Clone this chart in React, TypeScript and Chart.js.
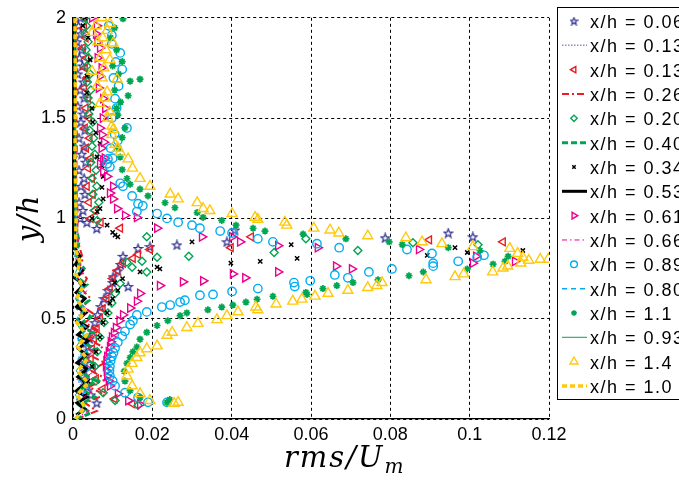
import React, { useEffect, useRef } from 'react';
import { Chart, registerables } from 'chart.js';
import { drawPoint } from 'chart.js/helpers';

Chart.register(...registerables);

// ---------- tick labels ----------
const xTickLabels = ['0', '0.02', '0.04', '0.06', '0.08', '0.1', '0.12'];
const yTickLabels = ['0', '0.5', '1', '1.5', '2'];

// ---------- legend labels ----------
const seriesLabels = [
  'x/h = 0.06', 'x/h = 0.13', 'x/h = 0.13', 'x/h = 0.26',
  'x/h = 0.20', 'x/h = 0.40', 'x/h = 0.34', 'x/h = 0.53',
  'x/h = 0.61', 'x/h = 0.66', 'x/h = 0.89', 'x/h = 0.80',
  'x/h = 1.1', 'x/h = 0.93', 'x/h = 1.4', 'x/h = 1.0',
];

// ---------- series values [rms/Um, y/h] ----------
const starXh006 = [
  [0.0060, 0.08], [0.0045, 0.12], [0.0035, 0.16], [0.0030, 0.20], [0.0028, 0.24], [0.0030, 0.28],
  [0.0033, 0.32], [0.0038, 0.36], [0.0042, 0.40], [0.0048, 0.44], [0.0055, 0.48], [0.0062, 0.52],
  [0.0070, 0.56], [0.0078, 0.60], [0.0088, 0.64], [0.0139, 0.66], [0.0100, 0.68], [0.0101, 0.709],
  [0.0113, 0.738], [0.0120, 0.77], [0.0126, 0.811], [0.0164, 0.850], [0.0194, 0.859], [0.0262, 0.868],
  [0.0388, 0.883], [0.0408, 0.942], [0.0787, 0.903], [0.0946, 0.927], [0.1008, 0.908],
  [0.0060, 0.95], [0.0035, 0.98], [0.0018, 1.00], [0.0025, 1.04], [0.0015, 1.08], [0.0030, 1.12],
  [0.0020, 1.16], [0.0028, 1.20], [0.0015, 1.24], [0.0032, 1.28], [0.0022, 1.32], [0.0028, 1.36],
  [0.0015, 1.40], [0.0030, 1.44], [0.0020, 1.48], [0.0025, 1.52], [0.0012, 1.56], [0.0028, 1.60],
  [0.0018, 1.64], [0.0026, 1.68], [0.0012, 1.72], [0.0024, 1.76], [0.0016, 1.80], [0.0022, 1.84],
  [0.0010, 1.88], [0.0020, 1.92], [0.0014, 1.96], [0.0018, 2.00],
];

const lineXh013 = [
  [0.0005, 0.00], [0.0020, 0.05], [0.0008, 0.10], [0.0025, 0.15], [0.0010, 0.20], [0.0028, 0.25],
  [0.0012, 0.30], [0.0030, 0.35], [0.0012, 0.40], [0.0028, 0.45], [0.0010, 0.50], [0.0025, 0.55],
  [0.0010, 0.60], [0.0022, 0.65], [0.0008, 0.70], [0.0018, 0.75], [0.0006, 0.80], [0.0010, 0.90],
  [0.0006, 1.00], [0.0008, 1.20], [0.0005, 1.40], [0.0007, 1.60], [0.0005, 1.80], [0.0006, 2.00],
];

const triLeftXh013 = [
  [0.0150, 0.075], [0.0105, 0.10], [0.0075, 0.15], [0.0058, 0.20], [0.0050, 0.25], [0.0045, 0.30],
  [0.0048, 0.35], [0.0053, 0.40], [0.0060, 0.45], [0.0068, 0.50], [0.0075, 0.55], [0.0085, 0.60],
  [0.0093, 0.65], [0.0100, 0.70], [0.0112, 0.74], [0.0126, 0.777], [0.0151, 0.801], [0.0164, 0.820],
  [0.0194, 0.845], [0.0398, 0.854], [0.0449, 0.908], [0.0898, 0.893], [0.1084, 0.883],
  [0.0119, 0.951], [0.0070, 0.98], [0.0045, 1.00], [0.0055, 1.04], [0.0040, 1.08], [0.0050, 1.12],
  [0.0035, 1.16], [0.0048, 1.20], [0.0038, 1.25], [0.0045, 1.30], [0.0033, 1.35], [0.0042, 1.40],
  [0.0030, 1.45], [0.0040, 1.50], [0.0032, 1.55], [0.0038, 1.60], [0.0028, 1.65], [0.0036, 1.70],
  [0.0030, 1.75], [0.0034, 1.80], [0.0025, 1.85], [0.0032, 1.90], [0.0028, 1.95], [0.0030, 2.00],
];

const lineXh026 = [
  [0.0010, 0.00], [0.0060, 0.04], [0.0030, 0.08], [0.0080, 0.12], [0.0040, 0.16], [0.0085, 0.20],
  [0.0045, 0.24], [0.0080, 0.28], [0.0040, 0.32], [0.0075, 0.36], [0.0035, 0.40], [0.0065, 0.44],
  [0.0030, 0.48], [0.0055, 0.52], [0.0025, 0.56], [0.0045, 0.60], [0.0020, 0.65], [0.0035, 0.70],
  [0.0015, 0.75], [0.0025, 0.80], [0.0010, 0.90], [0.0012, 1.00], [0.0008, 1.20], [0.0010, 1.40],
  [0.0007, 1.60], [0.0009, 1.80], [0.0007, 2.00],
];

const diamondXh020 = [
  [0.0164, 0.068], [0.0106, 0.092], [0.0076, 0.131], [0.0058, 0.189], [0.0055, 0.262], [0.0061, 0.335],
  [0.0068, 0.408], [0.0078, 0.481], [0.0088, 0.529], [0.0098, 0.578], [0.0106, 0.626], [0.0119, 0.675],
  [0.0186, 0.733], [0.0149, 0.757], [0.0136, 0.782], [0.0174, 0.786], [0.0212, 0.806], [0.0292, 0.811],
  [0.0507, 0.830], [0.0718, 0.840], [0.1021, 0.869], [0.0857, 0.879], [0.0587, 0.898], [0.0186, 0.908],
  [0.0061, 0.990], [0.0055, 1.04], [0.0065, 1.08], [0.0050, 1.12], [0.0060, 1.16], [0.0048, 1.20],
  [0.0058, 1.24], [0.0045, 1.28], [0.0055, 1.32], [0.0048, 1.36], [0.0052, 1.40], [0.0042, 1.44],
  [0.0050, 1.48], [0.0040, 1.52], [0.0048, 1.56], [0.0038, 1.60], [0.0045, 1.64], [0.0036, 1.68],
  [0.0043, 1.72], [0.0035, 1.76], [0.0040, 1.80], [0.0033, 1.84], [0.0038, 1.88], [0.0030, 1.92],
  [0.0034, 1.96], [0.0030, 2.00],
];

const lineXh040 = [
  [0.0008, 0.00], [0.0045, 0.03], [0.0015, 0.07], [0.0055, 0.11], [0.0020, 0.15], [0.0060, 0.19],
  [0.0022, 0.23], [0.0058, 0.27], [0.0020, 0.31], [0.0055, 0.35], [0.0018, 0.39], [0.0050, 0.43],
  [0.0015, 0.47], [0.0045, 0.51], [0.0012, 0.55], [0.0040, 0.59], [0.0010, 0.63], [0.0035, 0.67],
  [0.0008, 0.71], [0.0028, 0.75], [0.0006, 0.80], [0.0015, 0.88], [0.0005, 1.00], [0.0006, 1.25],
  [0.0004, 1.50], [0.0005, 1.75], [0.0004, 2.00],
];

const crossXh034 = [
  [0.0030, 0.117], [0.0038, 0.189], [0.0048, 0.262], [0.0058, 0.335], [0.0068, 0.408], [0.0076, 0.481],
  [0.0086, 0.529], [0.0093, 0.578], [0.0100, 0.600], [0.0113, 0.641], [0.0105, 0.680], [0.0125, 0.700],
  [0.0169, 0.733], [0.0219, 0.748], [0.0212, 0.757], [0.0398, 0.777], [0.0472, 0.786], [0.0565, 0.801],
  [0.0893, 0.816], [0.0994, 0.830], [0.1134, 0.840], [0.0963, 0.854], [0.0550, 0.869], [0.0300, 0.883],
  [0.0113, 0.908], [0.0106, 0.917], [0.0100, 0.930], [0.0086, 0.966], [0.0048, 1.000], [0.0061, 1.034],
  [0.0068, 1.049], [0.0076, 1.097], [0.0073, 1.155], [0.0076, 1.209], [0.0073, 1.262], [0.0061, 1.306],
  [0.0068, 1.374], [0.0058, 1.427], [0.0050, 1.480], [0.0048, 1.549], [0.0035, 1.626], [0.0035, 1.709],
  [0.0043, 1.791], [0.0038, 1.903], [0.0025, 1.961], [0.0030, 2.000],
];

const lineXh053 = [
  [0.0008, 0.02], [0.0030, 0.05], [0.0010, 0.08], [0.0035, 0.11], [0.0008, 0.14], [0.0032, 0.18],
  [0.0012, 0.21], [0.0036, 0.25], [0.0010, 0.28], [0.0034, 0.32], [0.0014, 0.35], [0.0038, 0.39],
  [0.0012, 0.42], [0.0036, 0.46], [0.0010, 0.49], [0.0033, 0.53], [0.0009, 0.56], [0.0030, 0.60],
  [0.0008, 0.63], [0.0028, 0.67], [0.0006, 0.70], [0.0024, 0.74], [0.0006, 0.77], [0.0018, 0.81],
  [0.0005, 0.85], [0.0004, 1.00], [0.0005, 1.20], [0.0003, 1.40], [0.0004, 1.60], [0.0003, 1.80],
  [0.0004, 2.00],
];

const triRightXh061 = [
  [0.0169, 0.073], [0.0139, 0.092], [0.0113, 0.126], [0.0093, 0.165], [0.0090, 0.190], [0.0086, 0.214],
  [0.0085, 0.240], [0.0083, 0.262], [0.0084, 0.290], [0.0086, 0.311], [0.0090, 0.335], [0.0093, 0.359],
  [0.0095, 0.385], [0.0098, 0.408], [0.0103, 0.430], [0.0108, 0.456], [0.0117, 0.490], [0.0126, 0.519],
  [0.0144, 0.553], [0.0161, 0.587], [0.0169, 0.626], [0.0219, 0.665], [0.0277, 0.684], [0.0328, 0.689],
  [0.0434, 0.704], [0.0403, 0.723], [0.0517, 0.733], [0.0703, 0.748], [0.0663, 0.762], [0.1008, 0.777],
  [0.1114, 0.786], [0.1016, 0.811], [0.0872, 0.845], [0.0617, 0.854], [0.0517, 0.864], [0.0421, 0.883],
  [0.0401, 0.908], [0.0325, 0.908], [0.0212, 0.951], [0.0161, 1.005], [0.0131, 1.015], [0.0111, 1.049],
  [0.0101, 1.097], [0.0093, 1.126], [0.0101, 1.160], [0.0086, 1.209], [0.0076, 1.233], [0.0068, 1.272],
  [0.0076, 1.291], [0.0080, 1.300], [0.0072, 1.350], [0.0078, 1.380], [0.0073, 1.417], [0.0068, 1.450],
  [0.0075, 1.500], [0.0081, 1.549], [0.0076, 1.597], [0.0065, 1.650], [0.0068, 1.709], [0.0072, 1.750],
  [0.0062, 1.800], [0.0068, 1.850], [0.0061, 1.879], [0.0058, 1.920], [0.0060, 1.960], [0.0048, 2.000],
];

const lineXh066 = [
  [0.0005, 0.00], [0.0040, 0.04], [0.0012, 0.09], [0.0050, 0.14], [0.0018, 0.19], [0.0055, 0.24],
  [0.0020, 0.29], [0.0050, 0.34], [0.0018, 0.39], [0.0045, 0.44], [0.0015, 0.49], [0.0040, 0.54],
  [0.0012, 0.59], [0.0035, 0.64], [0.0010, 0.69], [0.0028, 0.74], [0.0008, 0.80], [0.0015, 0.90],
  [0.0006, 1.00], [0.0008, 1.30], [0.0005, 1.60], [0.0006, 2.00],
];

const circleXh089 = [
  [0.0237, 0.083], [0.0189, 0.083], [0.0164, 0.107], [0.0131, 0.131], [0.0106, 0.165], [0.0100, 0.190],
  [0.0093, 0.214], [0.0092, 0.240], [0.0093, 0.262], [0.0095, 0.290], [0.0098, 0.311], [0.0102, 0.330],
  [0.0106, 0.354], [0.0113, 0.383], [0.0124, 0.413], [0.0131, 0.437], [0.0144, 0.471], [0.0151, 0.490],
  [0.0161, 0.519], [0.0186, 0.534], [0.0224, 0.558], [0.0245, 0.568], [0.0270, 0.583], [0.0282, 0.592],
  [0.0320, 0.617], [0.0353, 0.621], [0.0401, 0.636], [0.0466, 0.650], [0.0559, 0.660], [0.0557, 0.680],
  [0.0598, 0.689], [0.0693, 0.704], [0.0660, 0.718], [0.0746, 0.733], [0.0804, 0.748], [0.0908, 0.762],
  [0.0908, 0.777], [0.0971, 0.786], [0.1019, 0.806], [0.1036, 0.816], [0.0905, 0.825], [0.0842, 0.845],
  [0.0671, 0.854], [0.0615, 0.874], [0.0504, 0.883], [0.0466, 0.898], [0.0401, 0.927], [0.0371, 0.937],
  [0.0320, 0.951], [0.0300, 0.966], [0.0265, 0.981], [0.0237, 1.000], [0.0212, 1.024], [0.0161, 1.034],
  [0.0176, 1.063], [0.0164, 1.073], [0.0149, 1.112], [0.0126, 1.160], [0.0119, 1.175], [0.0093, 1.257],
  [0.0086, 1.272], [0.0088, 1.296], [0.0100, 1.300], [0.0095, 1.350], [0.0113, 1.388], [0.0105, 1.420],
  [0.0136, 1.451], [0.0098, 1.500], [0.0110, 1.550], [0.0106, 1.597], [0.0115, 1.660], [0.0102, 1.700],
  [0.0124, 1.743], [0.0108, 1.780], [0.0119, 1.825], [0.0098, 1.870], [0.0098, 1.913], [0.0090, 1.960],
];

const lineXh080 = [
  [0.0006, 0.00], [0.0035, 0.05], [0.0010, 0.10], [0.0040, 0.15], [0.0012, 0.20], [0.0042, 0.25],
  [0.0014, 0.30], [0.0040, 0.35], [0.0012, 0.40], [0.0036, 0.45], [0.0010, 0.50], [0.0032, 0.55],
  [0.0009, 0.60], [0.0028, 0.65], [0.0008, 0.70], [0.0022, 0.75], [0.0006, 0.82], [0.0009, 0.95],
  [0.0005, 1.10], [0.0006, 1.40], [0.0004, 1.70], [0.0005, 2.00],
];

const asteriskXh11 = [
  [0.0237, 0.083], [0.0244, 0.097], [0.0169, 0.107], [0.0144, 0.141], [0.0131, 0.189], [0.0129, 0.238],
  [0.0136, 0.277], [0.0144, 0.306], [0.0151, 0.335], [0.0161, 0.359], [0.0169, 0.398], [0.0186, 0.432],
  [0.0212, 0.466], [0.0239, 0.490], [0.0270, 0.515], [0.0287, 0.529], [0.0340, 0.544], [0.0375, 0.558],
  [0.0403, 0.568], [0.0436, 0.583], [0.0464, 0.597], [0.0504, 0.612], [0.0590, 0.621], [0.0587, 0.631],
  [0.0630, 0.650], [0.0665, 0.665], [0.0706, 0.680], [0.0769, 0.694], [0.0847, 0.714], [0.0883, 0.733],
  [0.0994, 0.748], [0.1059, 0.772], [0.1089, 0.786], [0.1097, 0.811], [0.1026, 0.840], [0.0946, 0.854],
  [0.0830, 0.869], [0.0797, 0.883], [0.0688, 0.898], [0.0580, 0.922], [0.0484, 0.937], [0.0454, 0.951],
  [0.0411, 0.966], [0.0375, 0.990], [0.0328, 1.005], [0.0313, 1.029], [0.0257, 1.053], [0.0232, 1.078],
  [0.0189, 1.112], [0.0169, 1.146], [0.0144, 1.170], [0.0136, 1.199], [0.0124, 1.243], [0.0119, 1.306],
  [0.0115, 1.350], [0.0124, 1.403], [0.0131, 1.451], [0.0113, 1.515], [0.0110, 1.550], [0.0120, 1.580],
  [0.0139, 1.612], [0.0105, 1.640], [0.0144, 1.684], [0.0169, 1.694], [0.0115, 1.720], [0.0100, 1.760],
  [0.0124, 1.782], [0.0110, 1.840], [0.0095, 1.900], [0.0105, 1.950], [0.0126, 1.995],
];

const lineXh093 = [
  [0.0004, 0.00], [0.0025, 0.06], [0.0006, 0.12], [0.0030, 0.18], [0.0008, 0.24], [0.0030, 0.30],
  [0.0008, 0.36], [0.0028, 0.42], [0.0007, 0.48], [0.0025, 0.54], [0.0006, 0.60], [0.0020, 0.66],
  [0.0005, 0.72], [0.0015, 0.78], [0.0004, 0.85], [0.0005, 1.00], [0.0004, 1.30], [0.0005, 1.60],
  [0.0004, 2.00],
];

const triUpXh14 = [
  [0.0265, 0.083], [0.0255, 0.078], [0.0194, 0.092], [0.0169, 0.126], [0.0149, 0.165], [0.0136, 0.214],
  [0.0139, 0.248], [0.0149, 0.277], [0.0161, 0.306], [0.0169, 0.330], [0.0186, 0.350], [0.0212, 0.364],
  [0.0237, 0.417], [0.0250, 0.432], [0.0287, 0.456], [0.0315, 0.476], [0.0363, 0.495], [0.0388, 0.515],
  [0.0416, 0.534], [0.0466, 0.544], [0.0461, 0.558], [0.0512, 0.573], [0.0554, 0.587], [0.0577, 0.597],
  [0.0610, 0.612], [0.0643, 0.626], [0.0693, 0.641], [0.0743, 0.655], [0.0766, 0.665], [0.0779, 0.680],
  [0.0890, 0.694], [0.0963, 0.709], [0.0985, 0.723], [0.1058, 0.733], [0.1084, 0.752], [0.1096, 0.762],
  [0.1129, 0.777], [0.1149, 0.791], [0.1178, 0.796], [0.1198, 0.796], [0.1134, 0.806], [0.1121, 0.825],
  [0.1101, 0.850], [0.1008, 0.859], [0.0930, 0.874], [0.0880, 0.883], [0.0839, 0.903], [0.0743, 0.913],
  [0.0670, 0.927], [0.0648, 0.942], [0.0607, 0.951], [0.0539, 0.966], [0.0534, 0.981], [0.0466, 0.995],
  [0.0459, 1.005], [0.0401, 1.024], [0.0345, 1.039], [0.0328, 1.049], [0.0313, 1.078], [0.0265, 1.097],
  [0.0245, 1.121], [0.0194, 1.160], [0.0169, 1.199], [0.0150, 1.250], [0.0139, 1.296], [0.0119, 1.330],
  [0.0113, 1.350], [0.0106, 1.369], [0.0098, 1.418], [0.0101, 1.442], [0.0098, 1.460], [0.0088, 1.500],
  [0.0093, 1.530], [0.0068, 1.573], [0.0081, 1.600], [0.0086, 1.630], [0.0061, 1.660], [0.0111, 1.694],
  [0.0073, 1.700], [0.0048, 1.733], [0.0078, 1.750], [0.0093, 1.791], [0.0068, 1.800], [0.0083, 1.840],
  [0.0101, 1.874], [0.0063, 1.880], [0.0075, 1.900], [0.0048, 1.927], [0.0086, 1.937], [0.0058, 1.960],
  [0.0093, 1.971], [0.0073, 2.000],
];

const lineXh10 = [
  [0.0006, 0.00], [0.0030, 0.06], [0.0010, 0.12], [0.0038, 0.18], [0.0012, 0.24], [0.0036, 0.30],
  [0.0012, 0.36], [0.0034, 0.42], [0.0010, 0.48], [0.0030, 0.54], [0.0009, 0.60], [0.0025, 0.66],
  [0.0008, 0.72], [0.0018, 0.78], [0.0006, 0.85], [0.0008, 1.00], [0.0005, 1.30], [0.0006, 1.60],
  [0.0005, 2.00],
];

// ---------- colours ----------
const NAVY = '#2E3192';
const RED = '#ED1C24';
const GREEN = '#00A651';
const MAGENTA = '#EC008C';
const CYAN = '#00AEEF';
const YELLOW = '#FFC90E';
const LILAC = '#8C8CD2';

function makePentagram(color: string, size: number, outer: number, inner: number) {
  const c = document.createElement('canvas');
  c.width = size;
  c.height = size;
  const g = c.getContext('2d')!;
  g.strokeStyle = color;
  g.lineWidth = 1.2;
  g.beginPath();
  for (let k = 0; k < 10; k++) {
    const r = k % 2 === 0 ? outer : inner;
    const a = -Math.PI / 2 + (k * Math.PI) / 5;
    const px = size / 2 + r * Math.cos(a);
    const py = size / 2 + 0.4 + r * Math.sin(a);
    if (k === 0) g.moveTo(px, py);
    else g.lineTo(px, py);
  }
  g.closePath();
  g.stroke();
  return c;
}

const toPts = (arr: number[][]) => arr.map(([x, y]) => ({ x, y }));

export default function App() {
  const ref = useRef<HTMLCanvasElement>(null);

  useEffect(() => {
    if (!ref.current) return;
    const star = makePentagram(NAVY, 11, 4.6, 1.9);
    const legendStar = makePentagram(NAVY, 9, 3.8, 1.6);

    const marker = (i: number, data: number[][], color: string, style: any, radius: number, rotation = 0, bw = 1.4) => ({
      label: seriesLabels[i],
      data: toPts(data),
      showLine: false,
      pointStyle: style,
      pointRadius: radius,
      pointRotation: rotation,
      pointBorderColor: color,
      pointBackgroundColor: 'rgba(0,0,0,0)',
      pointBorderWidth: bw,
      borderColor: color,
      backgroundColor: 'rgba(0,0,0,0)',
      order: 16 - i,
      _kind: 'marker',
    });
    const line = (i: number, data: number[][], color: string, width: number, dash: number[]) => ({
      label: seriesLabels[i],
      data: toPts(data),
      showLine: true,
      pointRadius: 0,
      borderColor: color,
      backgroundColor: color,
      borderWidth: width,
      borderDash: dash,
      tension: 0,
      order: 16 - i,
      _kind: 'line',
    });

    const datasets: any[] = [
      marker(0, starXh006, NAVY, star, 5),
      line(1, lineXh013, LILAC, 1.5, [1.5, 1.5]),
      marker(2, triLeftXh013, RED, 'triangle', 4.5, -90),
      line(3, lineXh026, RED, 2, [7, 3, 2, 3]),
      marker(4, diamondXh020, GREEN, 'rectRot', 4),
      line(5, lineXh040, GREEN, 3, [6, 3]),
      marker(6, crossXh034, '#000', 'crossRot', 3, 0, 1.5),
      line(7, lineXh053, '#000', 3, []),
      marker(8, triRightXh061, MAGENTA, 'triangle', 4.8, 90),
      line(9, lineXh066, MAGENTA, 1, [5, 3, 1.5, 3]),
      marker(10, circleXh089, CYAN, 'circle', 4.2),
      line(11, lineXh080, CYAN, 1.5, [5, 4]),
      marker(12, asteriskXh11, GREEN, 'star', 3.5, 0, 1.7),
      line(13, lineXh093, GREEN, 1, []),
      marker(14, triUpXh14, YELLOW, 'triangle', 5.8),
      line(15, lineXh10, YELLOW, 3.5, [5, 3]),
    ];

    const overlay = {
      id: 'overlay',
      afterDraw(chart: any) {
        const ctx: CanvasRenderingContext2D = chart.ctx;
        const area = chart.chartArea;
        // axis titles
        ctx.save();
        ctx.fillStyle = '#000';
        ctx.textAlign = 'left';
        ctx.textBaseline = 'alphabetic';
        (ctx as any).letterSpacing = '2px';
        ctx.font = 'italic 29px "DejaVu Serif"';
        const main = 'rms/U';
        ctx.fillText(main, 284, 467);
        const w = ctx.measureText(main).width;
        ctx.font = 'italic 20px "DejaVu Serif"';
        ctx.fillText('m', 284 + w, 473);
        ctx.translate(30, (area.top + area.bottom) / 2);
        ctx.rotate(-Math.PI / 2);
        ctx.textAlign = 'center';
        ctx.textBaseline = 'middle';
        (ctx as any).letterSpacing = '1px';
        ctx.font = 'italic 29px "DejaVu Serif"';
        ctx.fillText('y/h', 0, 0);
        ctx.restore();

        // legend
        ctx.save();
        const L = 557, T = 7, B = 399;
        ctx.fillStyle = '#fff';
        ctx.fillRect(L, T, 200, B - T);
        ctx.strokeStyle = '#000';
        ctx.lineWidth = 1;
        ctx.setLineDash([]);
        ctx.strokeRect(L + 0.5, T + 0.5, 200, B - T);
        chart.data.datasets.forEach((ds: any, i: number) => {
          const yMid = 21 + i * 24.33;
          ctx.save();
          if (ds._kind === 'line') {
            ctx.strokeStyle = ds.borderColor;
            ctx.lineWidth = ds.borderWidth;
            ctx.setLineDash(ds.borderDash || []);
            ctx.beginPath();
            ctx.moveTo(562, yMid);
            ctx.lineTo(587, yMid);
            ctx.stroke();
          } else {
            ctx.strokeStyle = ds.pointBorderColor;
            ctx.fillStyle = 'rgba(0,0,0,0)';
            ctx.lineWidth = ds.pointBorderWidth;
            drawPoint(ctx, {
              pointStyle: i === 0 ? legendStar : ds.pointStyle,
              radius: ds.pointRadius * 0.8,
              rotation: ds.pointRotation || 0,
              borderWidth: ds.pointBorderWidth,
            } as any, 574, yMid);
          }
          ctx.restore();
          ctx.fillStyle = '#000';
          ctx.font = '18px "Liberation Sans"';
          (ctx as any).letterSpacing = '1.5px';
          ctx.textAlign = 'left';
          ctx.textBaseline = 'alphabetic';
          ctx.fillText(ds.label, 590, yMid + 7);
        });
        ctx.restore();
      },
    };

    const tickFont = { family: '"Liberation Sans"', size: 18 };
    const chart = new Chart(ref.current, {
      type: 'scatter',
      data: { datasets },
      options: {
        animation: false,
        responsive: false,
        events: [],
        layout: { padding: { left: 0, right: 130, top: 7, bottom: 0 } },
        plugins: { legend: { display: false }, tooltip: { enabled: false } },
        scales: {
          x: {
            type: 'linear',
            min: 0,
            max: 0.12,
            afterFit: (s: any) => { s.height = 62; },
            ticks: {
              stepSize: 0.02,
              autoSkip: false,
              maxRotation: 0,
              padding: 5,
              color: '#000',
              font: tickFont,
              callback: (_v: any, idx: number) => xTickLabels[idx],
            },
            grid: { color: '#000', lineWidth: 1, drawTicks: false },
            border: { display: true, color: '#000', width: 1.2, dash: [3, 3] },
          },
          y: {
            type: 'linear',
            min: 0,
            max: 2,
            afterFit: (s: any) => { s.width = 73; },
            ticks: {
              stepSize: 0.5,
              autoSkip: false,
              padding: 7,
              color: '#000',
              font: tickFont,
              callback: (_v: any, idx: number) => yTickLabels[idx],
            },
            grid: { color: '#000', lineWidth: 1, drawTicks: false },
            border: { display: true, color: '#000', width: 1.2, dash: [3, 3] },
          },
        },
      },
      plugins: [overlay],
    } as any);

    return () => chart.destroy();
  }, []);

  return (
    <div style={{ position: 'fixed', left: 0, top: 0, width: 679, height: 481, background: '#fff' }}>
      <canvas ref={ref} width={679} height={481} style={{ display: 'block', width: 679, height: 481 }} />
    </div>
  );
}
